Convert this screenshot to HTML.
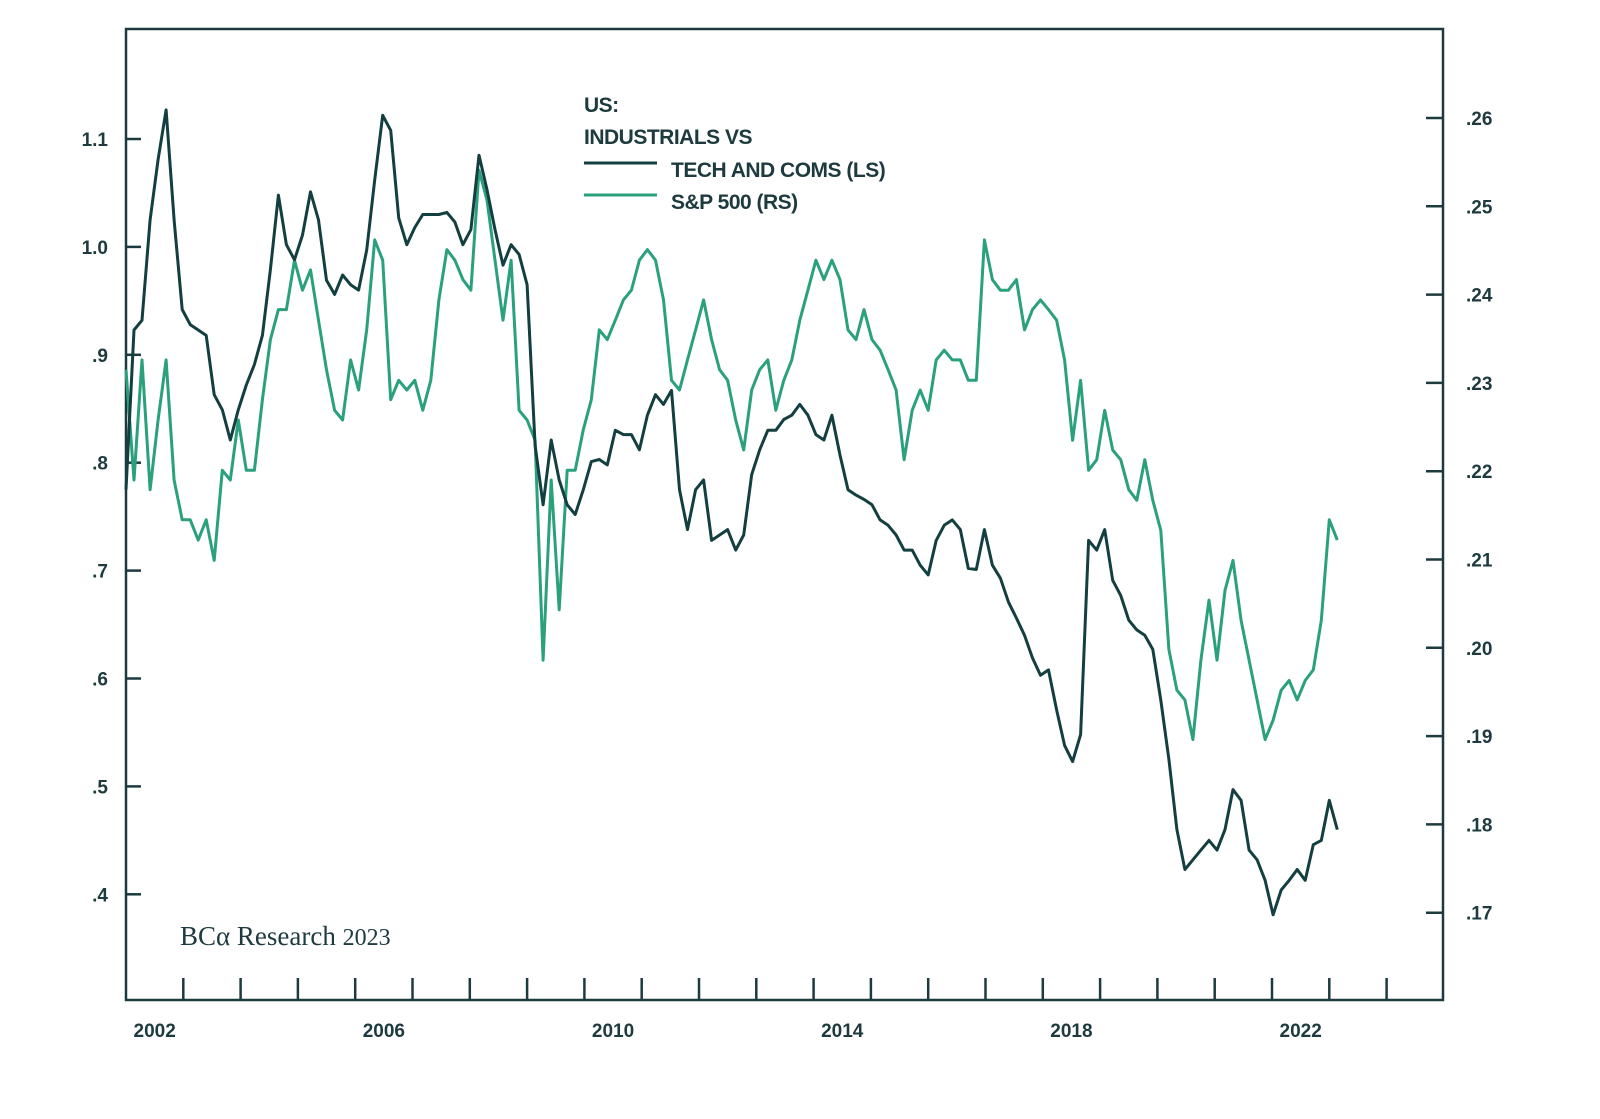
<!DOCTYPE html>
<html><head><meta charset="utf-8"><style>
html,body{margin:0;padding:0;background:#fff;}
svg{display:block;}
.tk{font-family:"Liberation Sans",sans-serif;font-weight:bold;font-size:19px;fill:#1d3a3e;}
.lg{font-family:"Liberation Sans",sans-serif;font-weight:bold;font-size:21px;fill:#1d3a3e;letter-spacing:-0.5px;}
</style></head><body>
<svg id="chart" width="1600" height="1119" viewBox="0 0 1600 1119">
<rect x="126" y="29" width="1317" height="971" fill="none" stroke="#1d3a3e" stroke-width="2.5"/>
<g id="axes"></g>
<g id="series"></g>
<g>
<text class="lg" x="584" y="112">US:</text>
<text class="lg" x="584" y="144">INDUSTRIALS VS</text>
<line x1="584" y1="163" x2="657" y2="163" stroke="#143f40" stroke-width="3"/>
<text class="lg" x="671" y="177">TECH AND COMS (LS)</text>
<line x1="584" y1="195" x2="657" y2="195" stroke="#2aa07c" stroke-width="3"/>
<text class="lg" x="671" y="209">S&amp;P 500 (RS)</text>
</g>
<text x="180" y="945" font-family="'Liberation Serif',serif" font-size="27" fill="#1d3a3e">BCα Research <tspan font-size="24">2023</tspan></text>
</svg>
<script>
const startYear = 2002;
const stepYears = 0.14;
const leftTicks = [0.4,0.5,0.6,0.7,0.8,0.9,1.0,1.1];
const leftTickLabels = [".4",".5",".6",".7",".8",".9","1.0","1.1"];
const rightTicks = [0.17,0.18,0.19,0.20,0.21,0.22,0.23,0.24,0.25,0.26];
const rightTickLabels = [".17",".18",".19",".20",".21",".22",".23",".24",".25",".26"];
const yearLabels = [2002,2006,2010,2014,2018,2022];
const techRatio = [0.775,0.923,0.932,1.025,1.081,1.127,1.025,0.942,0.928,0.923,0.918,0.863,0.849,0.821,0.849,0.872,0.891,0.918,0.979,1.048,1.002,0.988,1.011,1.051,1.025,0.969,0.956,0.974,0.965,0.960,0.997,1.062,1.122,1.108,1.027,1.002,1.018,1.030,1.030,1.030,1.032,1.023,1.002,1.016,1.085,1.053,1.016,0.983,1.002,0.993,0.965,0.816,0.761,0.821,0.784,0.761,0.752,0.775,0.801,0.803,0.798,0.830,0.826,0.826,0.812,0.844,0.863,0.854,0.867,0.775,0.738,0.775,0.784,0.728,0.733,0.738,0.719,0.733,0.789,0.812,0.830,0.830,0.840,0.844,0.854,0.844,0.826,0.821,0.844,0.807,0.775,0.770,0.766,0.761,0.747,0.742,0.733,0.719,0.719,0.705,0.696,0.728,0.742,0.747,0.738,0.702,0.701,0.738,0.705,0.693,0.671,0.656,0.640,0.619,0.603,0.608,0.571,0.538,0.523,0.548,0.728,0.719,0.738,0.691,0.677,0.654,0.645,0.640,0.627,0.580,0.525,0.460,0.423,0.432,0.441,0.450,0.441,0.460,0.497,0.487,0.441,0.432,0.413,0.381,0.404,0.413,0.423,0.413,0.446,0.450,0.487,0.460];
const spRatio = [0.2315,0.2190,0.2326,0.2179,0.2258,0.2326,0.2190,0.2145,0.2145,0.2122,0.2145,0.2099,0.2201,0.2190,0.2258,0.2201,0.2201,0.2281,0.2349,0.2383,0.2383,0.2439,0.2405,0.2428,0.2371,0.2315,0.2269,0.2258,0.2326,0.2292,0.2360,0.2462,0.2439,0.2281,0.2303,0.2292,0.2303,0.2269,0.2303,0.2394,0.2451,0.2439,0.2417,0.2405,0.2541,0.2507,0.2439,0.2371,0.2439,0.2269,0.2258,0.2235,0.1986,0.2190,0.2043,0.2201,0.2201,0.2247,0.2281,0.2360,0.2349,0.2371,0.2394,0.2405,0.2439,0.2451,0.2439,0.2394,0.2303,0.2292,0.2326,0.2360,0.2394,0.2349,0.2315,0.2303,0.2258,0.2224,0.2292,0.2315,0.2326,0.2269,0.2303,0.2326,0.2371,0.2405,0.2439,0.2417,0.2439,0.2417,0.2360,0.2349,0.2383,0.2349,0.2337,0.2315,0.2292,0.2213,0.2269,0.2292,0.2269,0.2326,0.2337,0.2326,0.2326,0.2303,0.2303,0.2462,0.2417,0.2405,0.2405,0.2417,0.2360,0.2383,0.2394,0.2383,0.2371,0.2326,0.2235,0.2303,0.2201,0.2213,0.2269,0.2224,0.2213,0.2179,0.2167,0.2213,0.2167,0.2133,0.1998,0.1952,0.1941,0.1896,0.1986,0.2054,0.1986,0.2065,0.2099,0.2031,0.1986,0.1941,0.1896,0.1918,0.1952,0.1963,0.1941,0.1963,0.1975,0.2031,0.2145,0.2122];

const NS = "http://www.w3.org/2000/svg";
const xOf = t => 126 + (t - 2002) * 57.3;
const yL = v => 139 + (1.1 - v) * 1079;
const yR = v => 118 + (0.26 - v) * 8830;
const axes = document.getElementById('axes');
const series = document.getElementById('series');
function mk(tag, attrs, parent){ const e=document.createElementNS(NS,tag); for(const k in attrs) e.setAttribute(k,attrs[k]); parent.appendChild(e); return e; }

leftTicks.forEach((v,i)=>{
  const y=yL(v);
  const l=mk('line',{x1:126,x2:141,y1:y,y2:y,stroke:'#1d3a3e','stroke-width':2.5},axes);
  
  
  const t=mk('text',{x:108,y:y+7,'text-anchor':'end','class':'tk'},axes);
  t.textContent=leftTickLabels[i];
  
  
});
rightTicks.forEach((v,i)=>{
  const y=yR(v);
  const l=mk('line',{x1:1426,x2:1443,y1:y,y2:y,stroke:'#1d3a3e','stroke-width':2.5},axes);
  
  
  const t=mk('text',{x:1466,y:y+7,'class':'tk'},axes);
  t.textContent=rightTickLabels[i];
  
  
});
for(let yr=2003; yr<=2024; yr++){
  const x=xOf(yr);
  const l=mk('line',{x1:x,x2:x,y1:978,y2:1000,stroke:'#1d3a3e','stroke-width':2.5},axes);
  
  
}
yearLabels.forEach(yr=>{
  const t=mk('text',{x:xOf(yr+0.5),y:1037,'text-anchor':'middle','class':'tk'},axes);
  t.textContent=String(yr);
  
  
});
function line(vals, yf, color){
  let d='';
  vals.forEach((v,i)=>{ d+=(i?'L':'M')+xOf(startYear+i*stepYears).toFixed(1)+','+yf(v).toFixed(1); });
  return mk('path',{d:d,fill:'none',stroke:color,'stroke-width':3,'stroke-linejoin':'round'},series);
}
const p2=line(spRatio,yR,'#2aa07c');


const p1=line(techRatio,yL,'#143f40');


</script>
</body></html>
